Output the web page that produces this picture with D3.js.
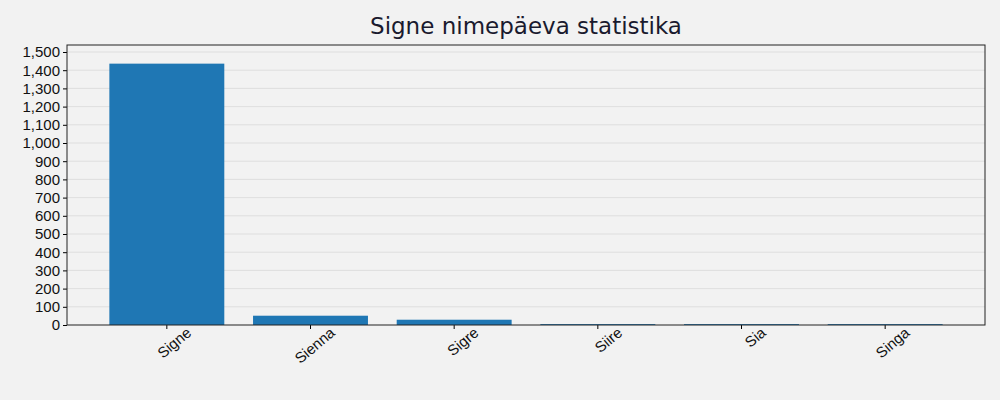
<!DOCTYPE html><html><head><meta charset="utf-8"><script src="https://d3js.org/d3.v7.min.js"></script>
<style>body{margin:0;background:#f2f2f2}</style></head><body><script>
const categories=["Signe","Sienna","Sigre","Siire","Sia","Singa"];
const values=[1436,51,29,5,5,5];
const yTicks=d3.range(0,1501,100);
const W=1000,H=400,L=67,R=985,T=45,B=325;
const svg=d3.select("body").append("svg").attr("width",W).attr("height",H).style("background","#f2f2f2").style("font-family","DejaVu Sans");
const x=d3.scaleBand().domain(categories).range([95,957]).paddingInner(0.2).paddingOuter(0.1);
const y=d3.scaleLinear().domain([0,1500]).range([B,52]);
svg.append("rect").attr("x",L).attr("y",T).attr("width",R-L).attr("height",B-T).attr("fill","#f2f2f2");
svg.append("g").selectAll("line").data(yTicks.slice(1)).join("line").attr("x1",L).attr("x2",R).attr("y1",d=>y(d)).attr("y2",d=>y(d)).attr("stroke","#d9d9d9").attr("stroke-width",0.8);
svg.append("g").selectAll("rect").data(categories).join("rect").attr("x",d=>x(d)).attr("width",x.bandwidth()).attr("y",(d,i)=>y(values[i])).attr("height",(d,i)=>B-y(values[i])).attr("fill","#1f77b4");
const ya=svg.append("g").attr("transform",`translate(${L},0)`).call(d3.axisLeft(y).tickValues(yTicks).tickSize(4).tickPadding(3));
ya.selectAll("text").style("font-size","15px").attr("fill","#111");
ya.select(".domain").remove();
const xa=svg.append("g").attr("transform",`translate(0,${B})`).call(d3.axisBottom(x).tickSize(4));
xa.select(".domain").remove();
xa.selectAll("text").style("font-size","15px").attr("fill","#111").attr("text-anchor","end").attr("transform","rotate(-40)").attr("dx","0.9em").attr("dy","1.1em");
svg.append("rect").attr("x",L).attr("y",T).attr("width",R-L).attr("height",B-T).attr("fill","none").attr("stroke","#222").attr("stroke-width",1);
svg.append("text").attr("x",(L+R)/2).attr("y",34).attr("text-anchor","middle").style("font-size","23px").attr("fill","#1a1a2e").text("Signe nimepäeva statistika");
</script></body></html>
